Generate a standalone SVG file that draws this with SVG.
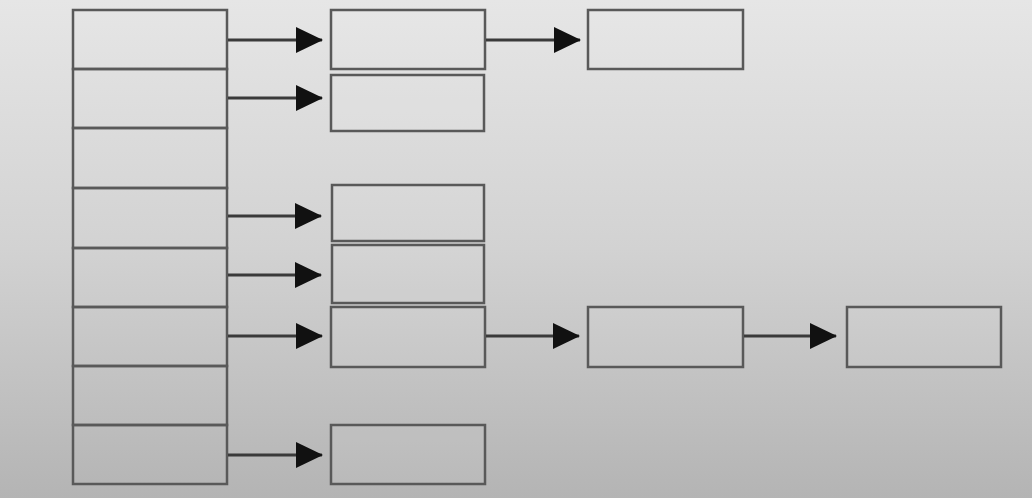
<svg xmlns="http://www.w3.org/2000/svg" width="1032" height="498" viewBox="0 0 1032 498">
<defs>
<linearGradient id="bg" x1="0" y1="0" x2="0" y2="1">
<stop offset="0" stop-color="#e6e6e6"/>
<stop offset="0.5" stop-color="#d2d2d2"/>
<stop offset="1" stop-color="#b4b4b4"/>
</linearGradient>
<marker id="ah" markerWidth="28" markerHeight="28" refX="26" refY="13" orient="auto" markerUnits="userSpaceOnUse">
<path d="M0,0 L27,13 L0,26 Z" fill="#111"/>
</marker>
<style>
.box{fill:#ffffff;fill-opacity:0.06;stroke:#595959;stroke-width:2.5}
.cell{fill:none;stroke:#595959;stroke-width:2.5}
.arr{stroke:#3a3a3a;stroke-width:3;fill:none;marker-end:url(#ah)}
</style>
</defs>
<rect width="1032" height="498" fill="url(#bg)"/>
<g id="table">
<rect class="cell" x="73" y="10" width="154" height="59"/>
<rect class="cell" x="73" y="69" width="154" height="59"/>
<rect class="cell" x="73" y="128" width="154" height="60"/>
<rect class="cell" x="73" y="188" width="154" height="60"/>
<rect class="cell" x="73" y="248" width="154" height="59"/>
<rect class="cell" x="73" y="307" width="154" height="59"/>
<rect class="cell" x="73" y="366" width="154" height="59"/>
<rect class="cell" x="73" y="425" width="154" height="59"/>
</g>
<g id="n1"><rect class="box" x="331" y="10" width="154" height="59"/></g>
<g id="n2"><rect class="box" x="331" y="75" width="153" height="56"/></g>
<g id="n3"><rect class="box" x="332" y="185" width="152" height="56"/></g>
<g id="n4"><rect class="box" x="332" y="245" width="152" height="58"/></g>
<g id="n5"><rect class="box" x="331" y="307" width="154" height="60"/></g>
<g id="n6"><rect class="box" x="331" y="425" width="154" height="59"/></g>
<g id="n7"><rect class="box" x="588" y="10" width="155" height="59"/></g>
<g id="n8"><rect class="box" x="588" y="307" width="155" height="60"/></g>
<g id="n9"><rect class="box" x="847" y="307" width="154" height="60"/></g>
<g id="connectors">
<line class="arr" x1="228" y1="40" x2="322" y2="40"/>
<line class="arr" x1="228" y1="98" x2="322" y2="98"/>
<line class="arr" x1="228" y1="216" x2="321" y2="216"/>
<line class="arr" x1="228" y1="275" x2="321" y2="275"/>
<line class="arr" x1="228" y1="336" x2="322" y2="336"/>
<line class="arr" x1="228" y1="455" x2="322" y2="455"/>
<line class="arr" x1="486" y1="40" x2="580" y2="40"/>
<line class="arr" x1="486" y1="336" x2="579" y2="336"/>
<line class="arr" x1="744" y1="336" x2="836" y2="336"/>
</g>
</svg>
